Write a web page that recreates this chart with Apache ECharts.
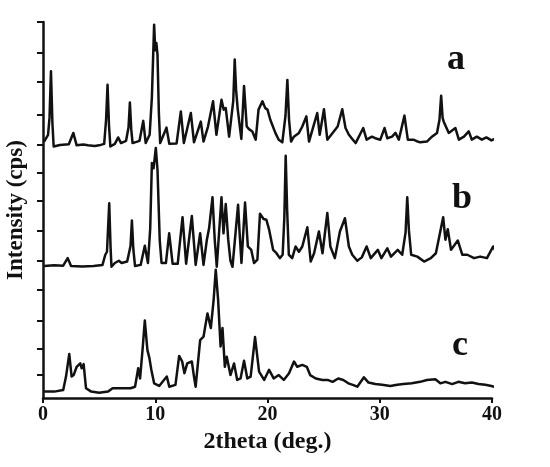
<!DOCTYPE html>
<html>
<head>
<meta charset="utf-8">
<script src="https://cdn.jsdelivr.net/npm/echarts@6/dist/echarts.min.js"></script>
<style>
  html, body { margin: 0; padding: 0; background: #fff; }
  #main { width: 550px; height: 467px; }
</style>
</head>
<body>
<div id="main"></div>
<script>
// 2theta (deg.) / intensity pairs, traces offset as in the plot
var traceA = [
  [0.1, 68.2], [0.45, 70.0], [0.58, 74.5], [0.71, 86.9], [0.84, 73.0], [0.95, 66.9], [1.5, 67.3], [2.3, 67.5],
  [2.7, 70.5], [3.0, 67.2], [3.6, 67.4], [4.0, 67.2], [4.6, 67.0], [5.0, 67.2], [5.45, 67.6], [5.62, 74.0],
  [5.75, 83.3], [5.88, 72.5], [6.0, 66.9], [6.4, 67.6], [6.7, 69.3], [6.95, 67.8], [7.4, 68.4], [7.62, 72.0],
  [7.74, 78.6], [7.86, 71.5], [7.98, 67.8], [8.6, 68.4], [8.93, 73.7], [9.15, 67.8], [9.5, 70.0], [9.7, 80.0],
  [9.9, 99.3], [10.0, 92.5], [10.1, 94.4], [10.2, 91.3], [10.32, 76.0], [10.44, 67.8], [11.0, 71.9], [11.25, 67.6],
  [11.9, 67.7], [12.28, 76.2], [12.55, 67.8], [13.17, 75.8], [13.45, 68.0], [14.06, 73.5], [14.3, 68.2],
  [14.7, 72.2], [15.15, 78.9], [15.45, 70.0], [15.9, 79.3], [16.1, 76.7], [16.28, 77.1], [16.58, 69.5],
  [16.75, 69.2], [16.95, 79.0], [17.08, 90.0], [17.2, 82.0], [17.35, 76.7], [17.67, 68.9], [17.91, 83.0],
  [18.15, 72.2], [18.35, 71.5], [18.65, 70.9], [18.95, 68.7], [19.2, 76.7], [19.55, 78.9], [19.8, 77.1],
  [20.0, 76.7], [20.25, 74.0], [20.7, 70.5], [21.0, 68.7], [21.32, 68.0], [21.6, 75.0], [21.77, 84.6],
  [21.92, 74.0], [22.1, 68.2], [22.35, 69.5], [22.8, 70.5], [23.1, 72.2], [23.46, 74.9], [23.7, 68.2],
  [24.0, 71.3], [24.43, 75.8], [24.65, 70.0], [25.03, 76.8], [25.33, 68.7], [25.8, 70.5], [26.25, 72.2],
  [26.66, 76.8], [26.95, 71.8], [27.25, 70.0], [27.55, 68.9], [27.85, 67.8], [28.53, 71.8], [28.83, 68.7],
  [29.3, 69.5], [29.6, 69.1], [30.05, 68.7], [30.43, 71.8], [30.67, 69.1], [31.1, 69.5], [31.4, 70.5],
  [31.7, 68.7], [32.2, 75.1], [32.5, 68.7], [33.0, 68.7], [33.3, 68.3], [33.6, 68.0], [34.2, 68.2],
  [34.65, 69.5], [35.1, 70.5], [35.32, 74.0], [35.47, 80.4], [35.6, 74.5], [35.7, 73.5], [35.85, 74.0],
  [36.15, 70.5], [36.74, 71.8], [37.05, 68.7], [37.5, 69.5], [37.93, 70.9], [38.2, 68.7], [38.65, 69.5],
  [39.1, 68.7], [39.5, 69.3], [39.95, 68.5], [40.3, 69.0], [40.6, 68.7]
];
var traceB = [
  [0.1, 35.1], [1.0, 35.3], [1.8, 35.2], [2.2, 37.2], [2.5, 35.1], [3.5, 35.0], [4.5, 35.1], [5.3, 35.4],
  [5.55, 38.1], [5.7, 38.9], [5.9, 51.8], [6.02, 40.0], [6.1, 34.9], [6.4, 35.9], [6.76, 36.5], [7.0, 35.9],
  [7.5, 36.3], [7.8, 40.5], [7.92, 47.2], [8.05, 39.5], [8.2, 35.1], [8.7, 35.4], [9.07, 40.5], [9.35, 35.9],
  [9.55, 45.0], [9.7, 62.5], [9.85, 61.1], [10.05, 66.5], [10.2, 60.7], [10.4, 42.0], [10.56, 35.9],
  [10.95, 35.9], [11.24, 43.8], [11.55, 35.7], [12.0, 35.7], [12.43, 48.1], [12.75, 35.7], [13.26, 48.4],
  [13.6, 35.4], [14.0, 43.8], [14.3, 35.4], [14.6, 42.1], [14.8, 45.2], [15.1, 53.4], [15.3, 42.1],
  [15.48, 34.9], [15.9, 53.4], [16.08, 43.8], [16.28, 51.6], [16.5, 42.1], [16.7, 36.5], [16.88, 34.9],
  [17.38, 51.4], [17.5, 44.7], [17.68, 35.9], [18.0, 52.0], [18.25, 40.3], [18.55, 39.4], [18.8, 35.9],
  [19.1, 36.8], [19.33, 49.0], [19.65, 47.6], [19.9, 47.4], [20.15, 44.7], [20.5, 39.4], [20.8, 38.5],
  [21.1, 37.2], [21.35, 38.1], [21.5, 48.0], [21.62, 64.4], [21.75, 50.0], [21.9, 38.1], [22.2, 37.2],
  [22.5, 40.3], [22.8, 38.9], [23.1, 40.3], [23.55, 45.4], [23.85, 36.3], [24.15, 38.5], [24.58, 44.3],
  [24.9, 38.5], [25.33, 49.2], [25.6, 40.3], [26.0, 37.2], [26.45, 44.3], [26.9, 47.8], [27.25, 40.3],
  [27.55, 38.1], [28.0, 36.5], [28.4, 37.4], [28.83, 40.3], [29.2, 37.2], [29.83, 39.4], [30.15, 37.2],
  [30.67, 39.8], [31.0, 37.6], [31.6, 39.4], [32.0, 38.1], [32.3, 44.0], [32.45, 53.4], [32.6, 44.5],
  [32.8, 38.1], [33.35, 37.6], [33.95, 36.3], [34.55, 37.2], [35.0, 38.5], [35.65, 48.1], [35.85, 42.1],
  [36.06, 44.9], [36.35, 39.4], [36.95, 41.9], [37.35, 38.1], [37.8, 38.1], [38.4, 37.2], [38.95, 37.6],
  [39.55, 37.2], [40.1, 40.3], [40.6, 37.6]
];
var traceC = [
  [0.1, 1.7], [1.0, 1.7], [1.8, 2.1], [2.05, 5.7], [2.34, 11.7], [2.55, 5.7], [2.73, 6.1], [3.0, 8.3],
  [3.32, 9.2], [3.45, 7.9], [3.62, 9.0], [3.83, 2.6], [4.3, 1.7], [5.0, 1.4], [5.8, 1.7], [6.2, 2.6],
  [7.0, 2.6], [7.8, 2.6], [8.2, 3.0], [8.48, 7.9], [8.65, 5.2], [8.9, 14.0], [9.07, 20.6], [9.3, 12.8],
  [9.48, 10.6], [9.65, 7.5], [9.9, 3.9], [10.35, 3.2], [11.03, 5.7], [11.25, 3.0], [11.8, 3.5], [12.13, 11.2],
  [12.4, 9.7], [12.6, 6.6], [12.85, 9.2], [13.26, 9.7], [13.45, 5.7], [13.6, 3.0], [14.0, 15.4], [14.3, 16.3],
  [14.65, 22.5], [14.95, 18.6], [15.2, 26.0], [15.39, 34.1], [15.6, 26.1], [15.82, 13.7], [15.99, 18.6],
  [16.2, 8.3], [16.37, 11.0], [16.7, 6.1], [17.02, 9.2], [17.3, 4.8], [17.6, 5.2], [17.91, 9.9], [18.2, 5.2],
  [18.5, 5.7], [18.89, 16.2], [19.25, 7.0], [19.7, 4.8], [20.14, 7.5], [20.55, 5.2], [21.0, 6.1], [21.45, 4.8],
  [21.92, 6.6], [22.36, 9.7], [22.65, 8.3], [23.1, 8.8], [23.5, 8.3], [23.8, 6.1], [24.3, 5.2], [24.9, 4.8],
  [25.35, 4.8], [25.8, 4.3], [26.3, 5.2], [26.75, 4.8], [27.2, 3.9], [27.6, 3.5], [28.0, 3.0], [28.59, 5.5],
  [29.0, 4.1], [29.6, 3.7], [30.2, 3.5], [30.95, 3.2], [31.55, 3.5], [32.1, 3.7], [32.85, 3.9], [33.6, 4.3],
  [34.2, 4.8], [34.95, 5.0], [35.4, 3.9], [35.85, 4.3], [36.45, 3.7], [37.0, 4.3], [37.6, 3.9], [38.2, 4.1],
  [38.8, 3.7], [39.4, 3.5], [39.95, 3.2], [40.6, 2.6]
];
var xTicks = [0, 10, 20, 30, 40];
var yTicks = [6.1, 13.0, 20.6, 28.7, 36.5, 44.5, 52.4, 59.8, 67.3, 75.3, 84.2, 91.7, 100];
var traceNames = ['a', 'b', 'c'];

var serif = '"Liberation Serif", "Times New Roman", serif';
var chart = echarts.init(document.getElementById('main'));

function makeSeries(name, data) {
  return {
    name: name,
    type: 'line',
    data: data,
    showSymbol: false,
    clip: false,
    lineStyle: { color: '#111', width: 2.5, join: 'round' },
    animation: false
  };
}

var option = {
  animation: false,
  grid: { left: 43, right: 58, top: 22, bottom: 69, containLabel: false, outerBoundsMode: 'none' },
  xAxis: {
    type: 'value',
    min: xTicks[0],
    max: xTicks[xTicks.length - 1],
    interval: 10,
    name: '2theta (deg.)',
    nameLocation: 'middle',
    nameGap: 31,
    nameTextStyle: { fontFamily: serif, fontWeight: 'bold', fontSize: 24, color: '#111' },
    axisLine: { lineStyle: { color: '#111', width: 2.5 } },
    axisTick: { length: 5, lineStyle: { color: '#111', width: 2 } },
    axisLabel: { fontFamily: serif, fontWeight: 'bold', fontSize: 20, color: '#111', margin: 7 },
    splitLine: { show: false }
  },
  yAxis: {
    type: 'value',
    min: 0,
    max: 100,
    name: 'Intensity (cps)',
    nameLocation: 'middle',
    nameGap: 15,
    nameTextStyle: { fontFamily: serif, fontWeight: 'bold', fontSize: 23, color: '#111' },
    axisLine: { show: true, lineStyle: { color: '#111', width: 2.5 } },
    axisTick: { show: true, length: 6, customValues: yTicks, lineStyle: { color: '#111', width: 2 } },
    axisLabel: { show: false },
    splitLine: { show: false }
  },
  graphic: [
    { type: 'text', left: 447, top: 42, style: { text: traceNames[0], font: 'bold 36px ' + serif, fill: '#111' } },
    { type: 'text', left: 452, top: 181, style: { text: traceNames[1], font: 'bold 36px ' + serif, fill: '#111' } },
    { type: 'text', left: 452, top: 328, style: { text: traceNames[2], font: 'bold 36px ' + serif, fill: '#111' } }
  ],
  series: [
    makeSeries('a', traceA),
    makeSeries('b', traceB),
    makeSeries('c', traceC)
  ]
};

chart.setOption(option);
</script>
</body>
</html>
